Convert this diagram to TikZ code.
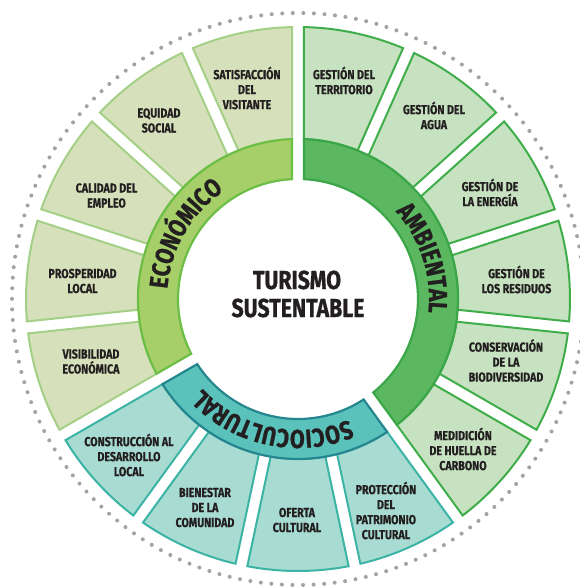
\documentclass[tikz,border=0pt]{standalone}
\usepackage{fontspec}
\setmainfont{Fira Sans}
\newfontfamily\condf{Fira Sans}[FakeStretch=0.82, FakeBold=0.5]
\newfontfamily\condh{Fira Sans}[FakeStretch=0.82, FakeBold=0.9]
\usetikzlibrary{decorations.text}
\definecolor{econfill}{HTML}{D6E1BB}
\definecolor{econline}{HTML}{A3D086}
\definecolor{econring}{HTML}{A6CF6A}
\definecolor{econringline}{HTML}{6CBE45}
\definecolor{ambfill}{HTML}{C6E2C0}
\definecolor{ambline}{HTML}{3FAE4A}
\definecolor{ambring}{HTML}{5CB860}
\definecolor{ambringline}{HTML}{3AA648}
\definecolor{socfill}{HTML}{A8DCD2}
\definecolor{socline}{HTML}{3BB3A5}
\definecolor{socring}{HTML}{5BC2BB}
\definecolor{socringline}{HTML}{25868F}
\definecolor{txt}{HTML}{231F20}
\definecolor{dotcol}{HTML}{A7A1A1}
\newcommand\sector[5]{%
 \draw[#5] ({#1+asin(6/#3)}:#3) -- ({#1+asin(6/#4)}:#4)
   arc[start angle={#1+asin(6/#4)}, end angle={#2-asin(6/#4)}, radius=#4]
   -- ({#2-asin(6/#3)}:#3)
   arc[start angle={#2-asin(6/#3)}, end angle={#1+asin(6/#3)}, radius=#3] -- cycle;}
\tikzset{
  segE/.style={fill=econfill, draw=econline, line width=2},
  segA/.style={fill=ambfill, draw=ambline, line width=2},
  segS/.style={fill=socfill, draw=socline, line width=2},
  ringE/.style={fill=econring, draw=econringline, line width=2.2},
  ringA/.style={fill=ambring, draw=ambringline, line width=2.2},
  ringS/.style={fill=socring, draw=socringline, line width=2.2},
  lbl/.style={align=center, text=txt, font=\condf\bfseries\fontsize{13}{15}\selectfont, inner sep=0},
  title/.style={text=txt, font=\condh\bfseries\fontsize{26}{28}\selectfont, inner sep=0},
  ringtext/.style={decorate, decoration={text along path, text align=center,
     text={|\condh\bfseries\fontsize{26}{28}\selectfont\color{txt}|#1}}}
}
\begin{document}
\begin{tikzpicture}[x=1pt,y=1pt]
\useasboundingbox (-298,-288) rectangle (281,299);
\fill[white] (-298,-288) rectangle (281,299);
\draw[dotcol, line width=4, line cap=round, dash pattern=on 0pt off 10.57pt] (0,0) circle[radius=286];
\foreach \i in {0,...,4} {\sector{90+24*\i}{114+24*\i}{160}{272}{segE}}
\foreach \i in {0,...,3} {\sector{210+24*\i}{234+24*\i}{160}{272}{segS}}
\foreach \i in {0,...,5} {\sector{306+24*\i}{330+24*\i}{160}{272}{segA}}
\sector{90}{210}{120}{160}{ringE}
\sector{210}{306}{120}{160}{ringS}
\sector{306}{450}{120}{160}{ringA}
\path[ringtext={ECONÓMICO}] (205:131) arc[start angle=205, end angle=95, radius=131];
\path[ringtext={AMBIENTAL}] (84:131) arc[start angle=84, end angle=-48, radius=131];
\path[ringtext={SOCIOCULTURAL}] (303:131) arc[start angle=303, end angle=213, radius=131];
\node[title, anchor=base] (t1) at (-1,10) {TURISMO};
\node[title, anchor=base] (t2) at (0,-18) {SUSTENTABLE};
\node[lbl] (e1) at (-51,211) {SATISFACCIÓN\\DEL\\VISITANTE};
\node[lbl] (e2) at (-139,178.5) {EQUIDAD\\SOCIAL};
\node[lbl] (e3) at (-191.5,103.5) {CALIDAD DEL\\EMPLEO};
\node[lbl] (e4) at (-215.5,18) {PROSPERIDAD\\LOCAL};
\node[lbl] (e5) at (-207,-62.5) {VISIBILIDAD\\ECONÓMICA};
\node[lbl] (s1) at (-169,-156) {CONSTRUCCIÓN AL\\DESARROLLO\\LOCAL};
\node[lbl] (s2) at (-93,-208.5) {BIENESTAR\\DE LA\\COMUNIDAD};
\node[lbl] (s3) at (-1,-221) {OFERTA\\CULTURAL};
\node[lbl] (s4) at (88,-211.5) {PROTECCIÓN\\DEL\\PATRIMONIO\\CULTURAL};
\node[lbl] (a6) at (165,-150) {MEDIDICIÓN\\DE HUELLA DE\\CARBONO};
\node[lbl] (a5) at (208,-61.5) {CONSERVACIÓN\\DE LA\\BIODIVERSIDAD};
\node[lbl] (a4) at (218.5,19.5) {GESTIÓN DE\\LOS RESIDUOS};
\node[lbl] (a3) at (192,106.5) {GESTIÓN DE\\LA ENERGÍA};
\node[lbl] (a2) at (136,183.5) {GESTIÓN DEL\\AGUA};
\node[lbl] (a1) at (46,218.5) {GESTIÓN DEL\\TERRITORIO};
\end{tikzpicture}
\end{document}
